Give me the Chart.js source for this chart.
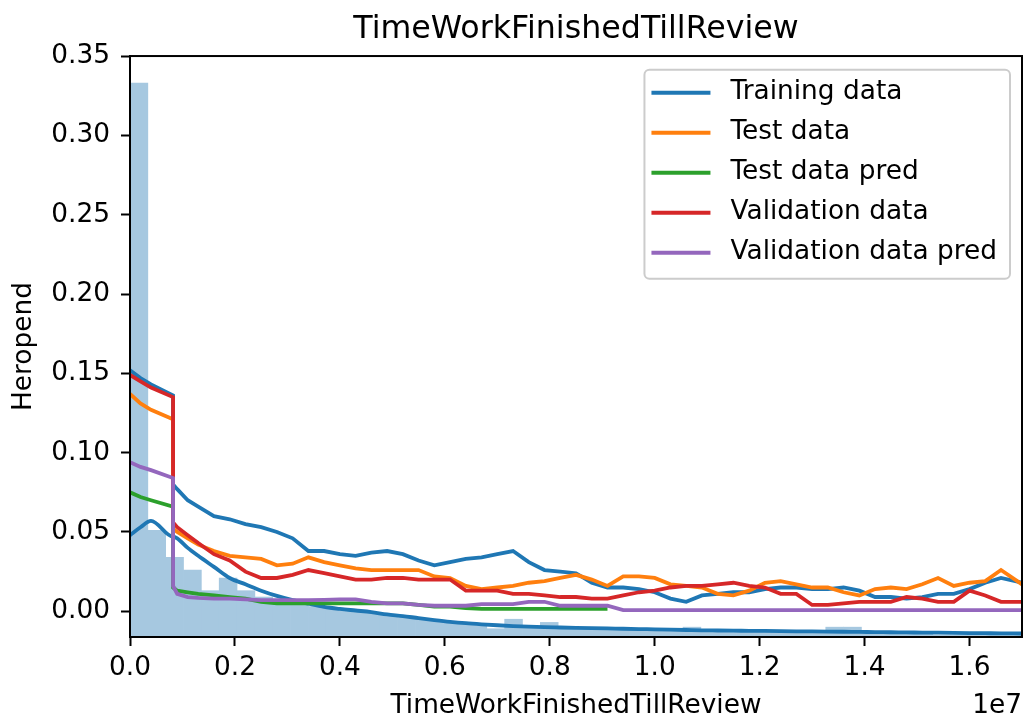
<!DOCTYPE html>
<html>
<head>
<meta charset="utf-8">
<script src="https://cdn.jsdelivr.net/npm/chart.js@4.4.0/dist/chart.umd.min.js"></script>
<style>
  html, body { margin: 0; padding: 0; background: #fff; }
</style>
</head>
<body>
<canvas id="myChart" width="1024" height="722"></canvas>
<script>
// x positions of the line samples, in units of 1e7 (the axis offset)
const xs = [0, 0.02, 0.04, 0.082, 0.0821, 0.09, 0.11, 0.13, 0.16, 0.19,
  0.22, 0.25, 0.28, 0.31, 0.34, 0.37, 0.40, 0.43, 0.46, 0.49,
  0.52, 0.55, 0.58, 0.61, 0.64, 0.67, 0.70, 0.73, 0.76, 0.79,
  0.82, 0.85, 0.88, 0.91, 0.94, 0.97, 1.00, 1.03, 1.06, 1.09,
  1.12, 1.15, 1.18, 1.21, 1.24, 1.27, 1.30, 1.33, 1.36, 1.39,
  1.42, 1.45, 1.48, 1.51, 1.54, 1.57, 1.60, 1.63, 1.66, 1.70];

const training = [0.152, 0.147, 0.143, 0.136, 0.080, 0.077, 0.070, 0.066, 0.060, 0.058,
  0.055, 0.053, 0.050, 0.046, 0.038, 0.038, 0.036, 0.035, 0.037, 0.038,
  0.036, 0.032, 0.029, 0.031, 0.033, 0.034, 0.036, 0.038, 0.031, 0.026,
  0.025, 0.024, 0.018, 0.015, 0.015, 0.014, 0.012, 0.008, 0.006, 0.010,
  0.011, 0.012, 0.012, 0.014, 0.015, 0.015, 0.014, 0.014, 0.015, 0.013,
  0.009, 0.009, 0.008, 0.009, 0.011, 0.011, 0.014, 0.018, 0.021, 0.018];

const test = [0.137, 0.131, 0.127, 0.121, 0.052, 0.050, 0.046, 0.042, 0.038, 0.035,
  0.034, 0.033, 0.029, 0.030, 0.034, 0.031, 0.029, 0.027, 0.026, 0.026,
  0.026, 0.026, 0.022, 0.021, 0.016, 0.014, 0.015, 0.016, 0.018, 0.019,
  0.021, 0.023, 0.020, 0.016, 0.022, 0.022, 0.021, 0.017, 0.016, 0.015,
  0.011, 0.010, 0.013, 0.018, 0.019, 0.017, 0.015, 0.015, 0.012, 0.010,
  0.014, 0.015, 0.014, 0.017, 0.021, 0.016, 0.018, 0.019, 0.026, 0.017];

const testPred = [0.075, 0.072, 0.070, 0.066, 0.015, 0.013, 0.012, 0.011, 0.010, 0.009,
  0.008, 0.006, 0.005, 0.005, 0.005, 0.005, 0.005, 0.005, 0.005, 0.005,
  0.005, 0.004, 0.003, 0.003, 0.002, 0.0015, 0.0015, 0.0015, 0.0015, 0.0015,
  0.0015, 0.0015, 0.0015, 0.0015, null, null, null, null, null, null,
  null, null, null, null, null, null, null, null, null, null,
  null, null, null, null, null, null, null, null, null, null];

const validation = [0.149, 0.145, 0.141, 0.135, 0.056, 0.053, 0.048, 0.043, 0.036, 0.032,
  0.025, 0.021, 0.021, 0.023, 0.026, 0.024, 0.022, 0.020, 0.020, 0.021,
  0.021, 0.020, 0.020, 0.020, 0.013, 0.013, 0.013, 0.011, 0.011, 0.010,
  0.009, 0.009, 0.008, 0.008, 0.010, 0.012, 0.013, 0.015, 0.016, 0.016,
  0.017, 0.018, 0.016, 0.015, 0.011, 0.011, 0.004, 0.004, 0.005, 0.006,
  0.006, 0.006, 0.009, 0.008, 0.006, 0.006, 0.013, 0.010, 0.006, 0.006];

const validationPred = [0.094, 0.091, 0.089, 0.084, 0.016, 0.011, 0.009, 0.0085, 0.008, 0.008,
  0.0075, 0.007, 0.007, 0.007, 0.007, 0.0072, 0.0075, 0.0075, 0.006, 0.005,
  0.005, 0.004, 0.0035, 0.0035, 0.0035, 0.0045, 0.0045, 0.0045, 0.006, 0.006,
  0.0035, 0.0035, 0.0035, 0.0035, 0.0007, 0.0007, 0.0007, 0.0007, 0.0007, 0.0007,
  0.0007, 0.0007, 0.0007, 0.0007, 0.0007, 0.0007, 0.0007, 0.0007, 0.0007, 0.0007,
  0.0007, 0.0007, 0.0007, 0.0007, 0.0007, 0.0007, 0.0007, 0.0007, 0.0007, 0.0007];

// smooth density curve drawn over the histogram (not in legend)
const kde = [0.048, 0.053, 0.057, 0.047, 0.047, 0.046, 0.040, 0.035, 0.028, 0.021,
  0.017, 0.013, 0.0097, 0.007, 0.0048, 0.0028, 0.0015, 0.0005, -0.0005, -0.002,
  -0.003, -0.0043, -0.0055, -0.0066, -0.0075, -0.0082, -0.0088, -0.0093, -0.0097, -0.0100,
  -0.0102, -0.0104, -0.0106, -0.0108, -0.0110, -0.0112, -0.0114, -0.0116, -0.0118, -0.0120,
  -0.0121, -0.0122, -0.0123, -0.0124, -0.0125, -0.0126, -0.0127, -0.0128, -0.0129, -0.0130,
  -0.0131, -0.0132, -0.0133, -0.0134, -0.0135, -0.0136, -0.0137, -0.0138, -0.0139, -0.0140];

// histogram bar tops, 50 bins from 0 to 1.7 (x 1e7)
const binWidth = 0.034;
const histTops = [0.333, 0.051, 0.034, 0.026, 0.013, 0.021, 0.013, 0.009, 0.006, 0.0045,
  0.003, 0.002, 0.0005, -0.001, -0.0025, -0.004, -0.005, -0.006, -0.007, -0.008,
  -0.011, -0.005, -0.010, -0.007, -0.010, -0.011, -0.011, -0.012, -0.012, -0.012,
  -0.012, -0.010, -0.013, -0.013, -0.013, -0.013, -0.013, -0.013, -0.013, -0.010,
  -0.010, -0.014, -0.014, -0.014, -0.014, -0.015, -0.015, -0.015, -0.015, -0.015];

const yMin = -0.0162;
const yMax = 0.35;
const xMax = 1.7;

const fontFamily = "'DejaVu Sans', sans-serif";
const fs = 26.4;

function pts(vals) {
    return xs.map((x, i) => ({ x: x, y: vals[i] }));
}

function lineSet(label, vals, color, order) {
    return {
        type: 'line',
        label: label,
        data: pts(vals),
        borderColor: color,
        backgroundColor: color,
        borderWidth: 3.8,
        pointRadius: 0,
        tension: 0,
        fill: false,
        order: order,
        showInLegend: true
    };
}

// frame on all four sides + offset text
const frame = {
    id: 'frame',
    afterDatasetsDraw(chart) {
        const { ctx, chartArea } = chart;
        ctx.save();
        ctx.strokeStyle = '#000';
        ctx.lineWidth = 2;
        ctx.strokeRect(chartArea.left, chartArea.top, chartArea.right - chartArea.left, chartArea.bottom - chartArea.top);
        ctx.font = fs + 'px ' + fontFamily;
        ctx.fillStyle = '#000';
        ctx.textAlign = 'right';
        ctx.textBaseline = 'middle';
        ctx.fillText('1e7', chartArea.right, 706);
        ctx.restore();
    }
};

const legendBox = {
    id: 'legendBox',
    afterDraw(chart) {
        const { ctx, chartArea } = chart;
        const items = chart.data.datasets.filter(d => d.showInLegend)
            .sort((a, b) => b.order - a.order);
        ctx.save();
        ctx.font = fs + 'px ' + fontFamily;
        const textW = Math.max(...items.map(d => ctx.measureText(d.label).width));
        const w = 7 + 59 + 20 + textW + 13;
        const h = 209;
        const left = chartArea.right - 12 - w;
        const top = chartArea.top + 13.6;
        ctx.beginPath();
        ctx.roundRect(left, top, w, h, 5);
        ctx.fillStyle = 'rgba(255,255,255,0.8)';
        ctx.fill();
        ctx.strokeStyle = '#cccccc';
        ctx.lineWidth = 2;
        ctx.stroke();
        items.forEach((d, i) => {
            const y = top + 23 + i * 40;
            ctx.strokeStyle = d.borderColor;
            ctx.lineWidth = 4;
            ctx.beginPath();
            ctx.moveTo(left + 7, y);
            ctx.lineTo(left + 66, y);
            ctx.stroke();
            ctx.fillStyle = '#000';
            ctx.textAlign = 'left';
            ctx.textBaseline = 'middle';
            ctx.fillText(d.label, left + 86, y);
        });
        ctx.restore();
    }
};

Chart.defaults.font.family = fontFamily;
Chart.defaults.color = '#000';

const data = {
    datasets: [
        lineSet('Validation data pred', validationPred, '#9467bd', 1),
        lineSet('Validation data', validation, '#d62728', 2),
        lineSet('Test data pred', testPred, '#2ca02c', 3),
        lineSet('Test data', test, '#ff7f0e', 4),
        lineSet('Training data', training, '#1f77b4', 5),
        {
            type: 'line',
            data: pts(kde),
            borderColor: '#1f77b4',
            borderWidth: 3.8,
            pointRadius: 0,
            cubicInterpolationMode: 'monotone',
            fill: false,
            order: 6
        },
        {
            type: 'bar',
            data: histTops.map((t, i) => ({ x: (i + 0.5) * binWidth, y: t })),
            backgroundColor: 'rgb(166, 200, 224)',
            borderWidth: 0,
            base: yMin,
            barPercentage: 1,
            categoryPercentage: 1,
            order: 7
        }
    ]
};

const axisGrid = {
    drawOnChartArea: false,
    drawTicks: true,
    tickLength: 9,
    tickWidth: 2,
    tickColor: '#000',
    offset: false
};

const config = {
    type: 'line',
    data: data,
    options: {
        responsive: false,
        animation: false,
        layout: { padding: { top: 0, right: 2, bottom: 0, left: 0 } },
        plugins: {
            title: {
                display: true,
                text: 'TimeWorkFinishedTillReview',
                fullSize: false,
                color: '#000',
                font: { size: 31.7, weight: 'normal' },
                padding: { top: 11, bottom: 7 }
            },
            legend: { display: false },
            tooltip: { enabled: false }
        },
        scales: {
            x: {
                type: 'linear',
                min: 0,
                max: xMax,
                offset: false,
                grid: axisGrid,
                border: { display: true, color: '#000', width: 2 },
                ticks: {
                    stepSize: 0.2,
                    includeBounds: false,
                    autoSkip: false,
                    maxRotation: 0,
                    padding: 6,
                    color: '#000',
                    font: { size: fs },
                    callback: v => v.toFixed(1)
                },
                title: {
                    display: true,
                    text: 'TimeWorkFinishedTillReview',
                    color: '#000',
                    font: { size: fs },
                    padding: { top: 0, bottom: 0 }
                },
                afterFit: s => { s.height = 85; }
            },
            y: {
                type: 'linear',
                min: yMin,
                max: yMax,
                grid: axisGrid,
                border: { display: true, color: '#000', width: 2 },
                ticks: {
                    stepSize: 0.05,
                    includeBounds: false,
                    autoSkip: false,
                    padding: 11,
                    color: '#000',
                    font: { size: fs },
                    callback: v => v.toFixed(2)
                },
                title: {
                    display: true,
                    text: 'Heropend',
                    color: '#000',
                    font: { size: fs },
                    padding: { top: 8, bottom: 0 }
                },
                afterFit: s => { s.width = 130; }
            }
        }
    },
    plugins: [frame, legendBox]
};

var myChart = new Chart(document.getElementById('myChart'), config);
</script>
</body>
</html>
